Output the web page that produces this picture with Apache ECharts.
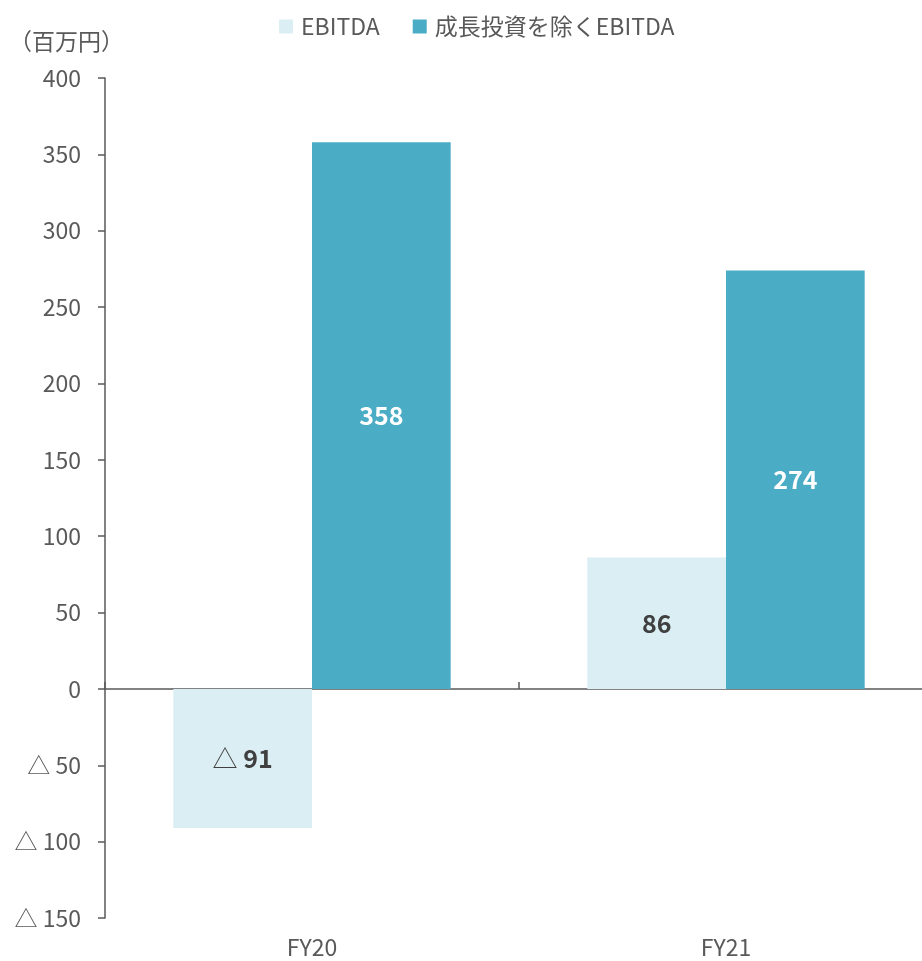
<!DOCTYPE html>
<html>
<head>
<meta charset="utf-8">
<script src="https://cdn.jsdelivr.net/npm/echarts@6/dist/echarts.min.js"></script>
<style>
  html, body { margin: 0; padding: 0; background: #fff; overflow: hidden; }
  /* 右端のカテゴリ境界は画面外まで伸びている */
  #chart { width: 933px; height: 961px; }
</style>
</head>
<body>
<div id="chart"></div>
<script>
// data
const categories = ["FY20", "FY21"];
const ebitda = [-91, 86];
const ebitdaExGrowth = [358, 274];
const seriesNames = ["EBITDA", "成長投資を除くEBITDA"];
const unitLabel = "（百万円）";

const FONT = "Noto Sans CJK JP";
const GRAY = "#595959";

// 負の値は「△」表記
function fmtNeg(v) {
  return v < 0 ? "△ " + Math.abs(v) : String(v);
}

const chart = echarts.init(document.getElementById("chart"));
const options = {
  color: ["#DAEEF3", "#4BACC6"],
  textStyle: { fontFamily: FONT },
  title: {
    text: unitLabel,
    left: 4,
    top: 25,
    textStyle: { color: GRAY, fontSize: 23, fontWeight: "normal", fontFamily: FONT },
  },
  legend: {
    data: seriesNames,
    left: 274,
    top: 10,
    icon: "rect",
    itemWidth: 14,
    itemHeight: 14,
    itemGap: 33,
    textStyle: { color: GRAY, fontSize: 23, fontFamily: FONT, padding: [0, 0, 0, 3] },
  },
  grid: {
    left: 105,
    right: 0,
    top: 78,
    bottom: 43,
    containLabel: false,
  },
  xAxis: [
    {
      // ラベル用（下端）
      type: "category",
      data: categories,
      position: "bottom",
      axisLine: { show: false, onZero: false },
      axisTick: { show: false },
      axisLabel: { color: GRAY, fontSize: 23, fontFamily: FONT, margin: 18 },
    },
    {
      // 0 の線
      type: "category",
      data: categories,
      position: "bottom",
      axisLine: { show: true, onZero: true, lineStyle: { color: GRAY, width: 1.5 } },
      axisTick: { show: true, inside: true, length: 7, lineStyle: { color: GRAY, width: 1.5 } },
      axisLabel: { show: false },
    },
  ],
  yAxis: {
    type: "value",
    min: -150,
    max: 400,
    interval: 50,
    axisLine: { show: true, onZero: false, lineStyle: { color: GRAY, width: 1.5 } },
    axisTick: { show: true, length: 7, lineStyle: { color: GRAY, width: 1.5 } },
    splitLine: { show: false },
    axisLabel: {
      color: GRAY,
      fontSize: 23,
      fontFamily: FONT,
      margin: 24,
      formatter: fmtNeg,
    },
  },
  series: [
    {
      name: seriesNames[0],
      type: "bar",
      xAxisIndex: 0,
      data: ebitda,
      barGap: "0%",
      barCategoryGap: "33%",
      label: {
        show: true,
        position: "inside",
        formatter: function (p) {
          return p.value < 0 ? "{t|△ }{v|" + Math.abs(p.value) + "}" : "{v|" + p.value + "}";
        },
        rich: {
          t: { color: "#404040", fontSize: 25, fontFamily: FONT, fontWeight: "normal" },
          v: { color: "#404040", fontSize: 25, fontFamily: FONT, fontWeight: "bold" },
        },
      },
    },
    {
      name: seriesNames[1],
      type: "bar",
      xAxisIndex: 0,
      data: ebitdaExGrowth,
      label: {
        show: true,
        position: "inside",
        color: "#fff",
        fontSize: 25,
        fontWeight: "bold",
        fontFamily: FONT,
      },
    },
  ],
};
chart.setOption(options);
</script>
</body>
</html>
